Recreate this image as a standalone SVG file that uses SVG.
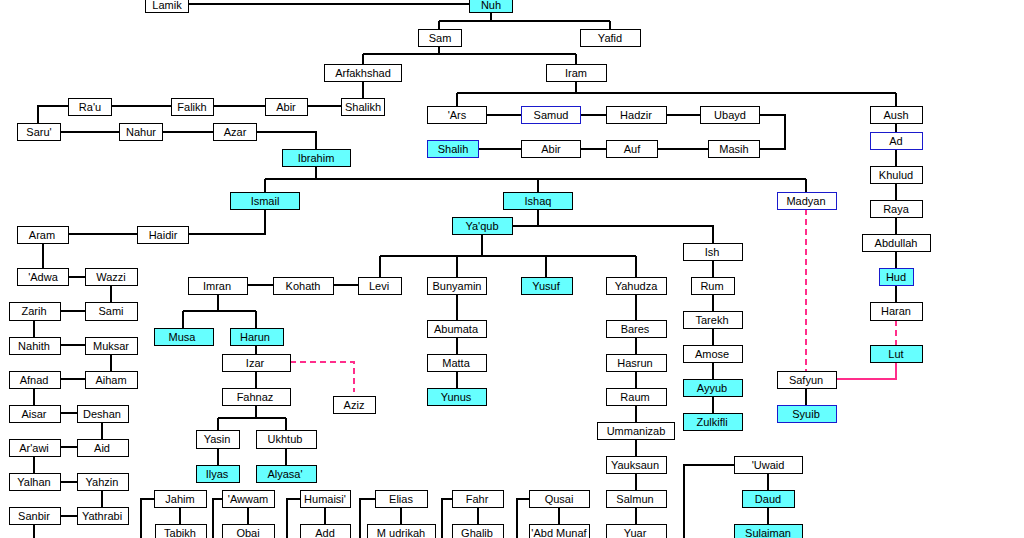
<svg xmlns="http://www.w3.org/2000/svg" width="1024" height="538" viewBox="0 0 1024 538">
<style>
rect{fill:#fff;stroke:#000;stroke-width:1}
.c rect{fill:#66FFFF}
.b rect{stroke:#1a1acc}
text{font-family:"Liberation Sans",Arial,sans-serif;font-size:11px;fill:#000;text-anchor:middle}
#links path{fill:none;stroke:#000;stroke-width:2}
#links path.pk{stroke:#ff2d8a}
#links path.d{stroke-dasharray:6 4}
</style>
<rect x="0" y="0" width="1024" height="538" style="fill:#fff;stroke:none"/>
<g id="links">
<path d="M188 4H469"/>
<path d="M491 12V21M439 21H610M439 21V29M610 21V29"/>
<path d="M439 46V54M363 54H576M363 54V65M576 54V65"/>
<path d="M363 81V98"/>
<path d="M111 106H171M213 106H265M307 106H341M68 106H38V123"/>
<path d="M60 132H119M162 132H213M256 132H316V150"/>
<path d="M316 166V179M265 179H806M265 179V192M538 179V192M806 179V192"/>
<path d="M576 81V93M457 93H896M457 93V106M896 93V106"/>
<path d="M486 115H521M580 115H606M666 115H700M759 115H785V149H759"/>
<path d="M478 149H521M580 149H606M657 149H708"/>
<path d="M896 123V132M896 149V166M896 183V201M896 217V234M896 251V268M896 285V302"/>
<path class="pk d" d="M896 320V345"/>
<path class="pk" d="M896 362V379H836"/>
<path class="pk d" d="M806 209V371"/>
<path d="M806 388V405"/>
<path d="M265 209V234H188M68 234H137M43 243V268"/>
<path d="M68 277H85M111 285V302M60 311H85M34 320V337M60 345H85M111 354V371M60 379H85M34 388V405M60 413H77M102 422V439M60 447H77M34 456V473M60 482H77M102 490V507M60 516H77M34 524V538"/>
<path d="M538 209V226M512 226H713V243"/>
<path d="M482 234V256M380 256H636M380 256V277M457 256V277M546 256V277M636 256V277"/>
<path d="M247 285H273M333 285H358"/>
<path d="M218 294V311M183 311H256M183 311V328M256 311V328"/>
<path d="M256 345V354M256 371V388"/>
<path class="pk d" d="M290 362H354V392"/>
<path d="M256 405V418M218 418H286M218 418V430M286 418V430M218 448V465M286 448V465"/>
<path d="M457 294V320M457 337V354M457 371V388"/>
<path d="M636 294V320M636 337V354M636 371V388M636 405V422M636 439V456M636 473V490M636 507V524"/>
<path d="M713 260V277M713 294V311M713 328V345M713 362V379M713 396V413"/>
<path d="M154 499H141V538M222 499H213V538M300 499H287V538M375 499H360V538M452 499H442V538M529 499H517V538M734 465H684V538"/>
<path d="M180 507V524M248 507V524M325 507V524M401 507V524M478 507V524M559 507V524M768 473V490M768 507V524"/>
</g>
<g id="lamik"><rect x="145.5" y="-4.5" width="43" height="17"/><text x="167" y="9">Lamik</text></g>
<g id="nuh" class="c"><rect x="469.5" y="-4.5" width="43" height="17"/><text x="491" y="9">Nuh</text></g>
<g id="sam"><rect x="418.5" y="29.5" width="43" height="17"/><text x="440" y="42">Sam</text></g>
<g id="yafid"><rect x="580.5" y="29.5" width="60" height="17"/><text x="610" y="42">Yafid</text></g>
<g id="arfakhshad"><rect x="324.5" y="64.5" width="77" height="17"/><text x="363" y="77">Arfakhshad</text></g>
<g id="iram"><rect x="546.5" y="64.5" width="60" height="17"/><text x="576" y="77">Iram</text></g>
<g id="rau"><rect x="68.5" y="98.5" width="43" height="17"/><text x="90" y="111">Ra'u</text></g>
<g id="falikh"><rect x="171.5" y="98.5" width="42" height="17"/><text x="192" y="111">Falikh</text></g>
<g id="abir1"><rect x="265.5" y="98.5" width="42" height="17"/><text x="286" y="111">Abir</text></g>
<g id="shalikh"><rect x="341.5" y="98.5" width="43" height="17"/><text x="363" y="111">Shalikh</text></g>
<g id="saru"><rect x="17.5" y="123.5" width="43" height="17"/><text x="39" y="136">Saru'</text></g>
<g id="nahur"><rect x="119.5" y="123.5" width="43" height="17"/><text x="141" y="136">Nahur</text></g>
<g id="azar"><rect x="213.5" y="123.5" width="43" height="17"/><text x="235" y="136">Azar</text></g>
<g id="ibrahim" class="c"><rect x="282.5" y="149.5" width="68" height="17"/><text x="316" y="162">Ibrahim</text></g>
<g id="ars"><rect x="427.5" y="106.5" width="59" height="17"/><text x="457" y="119">'Ars</text></g>
<g id="samud" class="b"><rect x="521.5" y="106.5" width="59" height="17"/><text x="551" y="119">Samud</text></g>
<g id="hadzir"><rect x="606.5" y="106.5" width="60" height="17"/><text x="636" y="119">Hadzir</text></g>
<g id="ubayd"><rect x="700.5" y="106.5" width="59" height="17"/><text x="730" y="119">Ubayd</text></g>
<g id="shalih" class="c b"><rect x="427.5" y="140.5" width="51" height="17"/><text x="453" y="153">Shalih</text></g>
<g id="abir2"><rect x="521.5" y="140.5" width="59" height="17"/><text x="551" y="153">Abir</text></g>
<g id="auf"><rect x="606.5" y="140.5" width="51" height="17"/><text x="632" y="153">Auf</text></g>
<g id="masih"><rect x="708.5" y="140.5" width="51" height="17"/><text x="734" y="153">Masih</text></g>
<g id="aush"><rect x="870.5" y="106.5" width="52" height="17"/><text x="896" y="119">Aush</text></g>
<g id="ad" class="b"><rect x="870.5" y="132.5" width="52" height="17"/><text x="896" y="145">Ad</text></g>
<g id="khulud"><rect x="870.5" y="166.5" width="52" height="17"/><text x="896" y="179">Khulud</text></g>
<g id="raya"><rect x="870.5" y="200.5" width="52" height="17"/><text x="896" y="213">Raya</text></g>
<g id="abdullah"><rect x="862.5" y="234.5" width="68" height="17"/><text x="896" y="247">Abdullah</text></g>
<g id="hud" class="c b"><rect x="879.5" y="268.5" width="34" height="17"/><text x="896" y="281">Hud</text></g>
<g id="haran"><rect x="870.5" y="302.5" width="52" height="18"/><text x="896" y="315">Haran</text></g>
<g id="lut" class="c"><rect x="870.5" y="345.5" width="52" height="17"/><text x="896" y="358">Lut</text></g>
<g id="ismail" class="c"><rect x="230.5" y="192.5" width="69" height="17"/><text x="265" y="205">Ismail</text></g>
<g id="ishaq" class="c"><rect x="503.5" y="192.5" width="69" height="17"/><text x="538" y="205">Ishaq</text></g>
<g id="madyan" class="b"><rect x="777.5" y="192.5" width="59" height="17"/><text x="806" y="205">Madyan</text></g>
<g id="yaqub" class="c"><rect x="452.5" y="217.5" width="60" height="17"/><text x="482" y="230">Ya'qub</text></g>
<g id="aram"><rect x="17.5" y="226.5" width="51" height="17"/><text x="42" y="239">Aram</text></g>
<g id="haidir"><rect x="137.5" y="226.5" width="51" height="17"/><text x="163" y="239">Haidir</text></g>
<g id="adwa"><rect x="17.5" y="268.5" width="51" height="17"/><text x="43" y="281">'Adwa</text></g>
<g id="wazzi"><rect x="85.5" y="268.5" width="52" height="17"/><text x="111" y="281">Wazzi</text></g>
<g id="zarih"><rect x="9.5" y="302.5" width="51" height="18"/><text x="34" y="315">Zarih</text></g>
<g id="sami"><rect x="85.5" y="302.5" width="52" height="18"/><text x="111" y="315">Sami</text></g>
<g id="nahith"><rect x="9.5" y="337.5" width="51" height="17"/><text x="34" y="350">Nahith</text></g>
<g id="muksar"><rect x="85.5" y="337.5" width="52" height="17"/><text x="111" y="350">Muksar</text></g>
<g id="afnad"><rect x="9.5" y="371.5" width="51" height="17"/><text x="34" y="384">Afnad</text></g>
<g id="aiham"><rect x="85.5" y="371.5" width="52" height="17"/><text x="111" y="384">Aiham</text></g>
<g id="aisar"><rect x="9.5" y="405.5" width="51" height="17"/><text x="34" y="418">Aisar</text></g>
<g id="deshan"><rect x="77.5" y="405.5" width="51" height="17"/><text x="102" y="418">Deshan</text></g>
<g id="arawi"><rect x="9.5" y="439.5" width="51" height="17"/><text x="34" y="452">Ar'awi</text></g>
<g id="aid"><rect x="77.5" y="439.5" width="51" height="17"/><text x="102" y="452">Aid</text></g>
<g id="yalhan"><rect x="9.5" y="473.5" width="51" height="17"/><text x="34" y="486">Yalhan</text></g>
<g id="yahzin"><rect x="77.5" y="473.5" width="51" height="17"/><text x="102" y="486">Yahzin</text></g>
<g id="sanbir"><rect x="9.5" y="507.5" width="51" height="17"/><text x="34" y="520">Sanbir</text></g>
<g id="yathrabi"><rect x="77.5" y="507.5" width="51" height="17"/><text x="102" y="520">Yathrabi</text></g>
<g id="imran"><rect x="188.5" y="277.5" width="59" height="17"/><text x="217" y="290">Imran</text></g>
<g id="kohath"><rect x="273.5" y="277.5" width="60" height="17"/><text x="303" y="290">Kohath</text></g>
<g id="levi"><rect x="358.5" y="277.5" width="43" height="17"/><text x="379" y="290">Levi</text></g>
<g id="bunyamin"><rect x="427.5" y="277.5" width="59" height="17"/><text x="457" y="290">Bunyamin</text></g>
<g id="yusuf" class="c"><rect x="521.5" y="277.5" width="51" height="17"/><text x="546" y="290">Yusuf</text></g>
<g id="yahudza"><rect x="606.5" y="277.5" width="60" height="17"/><text x="636" y="290">Yahudza</text></g>
<g id="ish"><rect x="683.5" y="243.5" width="59" height="17"/><text x="712" y="256">Ish</text></g>
<g id="rum"><rect x="691.5" y="277.5" width="43" height="17"/><text x="712" y="290">Rum</text></g>
<g id="tarekh"><rect x="683.5" y="311.5" width="59" height="17"/><text x="712" y="324">Tarekh</text></g>
<g id="amose"><rect x="683.5" y="345.5" width="59" height="17"/><text x="712" y="358">Amose</text></g>
<g id="ayyub" class="c"><rect x="683.5" y="379.5" width="59" height="17"/><text x="712" y="392">Ayyub</text></g>
<g id="zulkifli" class="c"><rect x="683.5" y="413.5" width="59" height="17"/><text x="712" y="426">Zulkifli</text></g>
<g id="safyun"><rect x="777.5" y="371.5" width="59" height="17"/><text x="806" y="384">Safyun</text></g>
<g id="syuib" class="c b"><rect x="777.5" y="405.5" width="59" height="17"/><text x="806" y="418">Syuib</text></g>
<g id="musa" class="c"><rect x="154.5" y="328.5" width="59" height="17"/><text x="182" y="341">Musa</text></g>
<g id="harun" class="c"><rect x="230.5" y="328.5" width="53" height="17"/><text x="255" y="341">Harun</text></g>
<g id="izar"><rect x="222.5" y="354.5" width="68" height="17"/><text x="255" y="367">Izar</text></g>
<g id="aziz"><rect x="333.5" y="396.5" width="42" height="17"/><text x="354" y="409">Aziz</text></g>
<g id="fahnaz"><rect x="222.5" y="388.5" width="68" height="17"/><text x="255" y="401">Fahnaz</text></g>
<g id="yasin"><rect x="196.5" y="430.5" width="43" height="18"/><text x="217" y="443">Yasin</text></g>
<g id="ukhtub"><rect x="256.5" y="430.5" width="60" height="18"/><text x="285" y="443">Ukhtub</text></g>
<g id="ilyas" class="c"><rect x="196.5" y="465.5" width="43" height="17"/><text x="217" y="478">Ilyas</text></g>
<g id="alyasa" class="c"><rect x="256.5" y="465.5" width="60" height="17"/><text x="285" y="478">Alyasa'</text></g>
<g id="abumata"><rect x="427.5" y="320.5" width="59" height="17"/><text x="456" y="333">Abumata</text></g>
<g id="matta"><rect x="427.5" y="354.5" width="59" height="17"/><text x="456" y="367">Matta</text></g>
<g id="yunus" class="c"><rect x="427.5" y="388.5" width="59" height="17"/><text x="456" y="401">Yunus</text></g>
<g id="bares"><rect x="606.5" y="320.5" width="60" height="17"/><text x="635" y="333">Bares</text></g>
<g id="hasrun"><rect x="606.5" y="354.5" width="60" height="17"/><text x="635" y="367">Hasrun</text></g>
<g id="raum"><rect x="606.5" y="388.5" width="60" height="17"/><text x="635" y="401">Raum</text></g>
<g id="ummanizab"><rect x="597.5" y="422.5" width="77" height="17"/><text x="636" y="435">Ummanizab</text></g>
<g id="yauksaun"><rect x="606.5" y="456.5" width="60" height="17"/><text x="635" y="469">Yauksaun</text></g>
<g id="salmun"><rect x="606.5" y="490.5" width="60" height="17"/><text x="635" y="503">Salmun</text></g>
<g id="yuar"><rect x="606.5" y="524.5" width="60" height="17"/><text x="635" y="537">Yuar</text></g>
<g id="uwaid"><rect x="734.5" y="456.5" width="68" height="17"/><text x="768" y="469">'Uwaid</text></g>
<g id="daud" class="c"><rect x="742.5" y="490.5" width="52" height="17"/><text x="768" y="503">Daud</text></g>
<g id="sulaiman" class="c"><rect x="734.5" y="524.5" width="68" height="17"/><text x="768" y="537">Sulaiman</text></g>
<g id="jahim"><rect x="154.5" y="490.5" width="52" height="17"/><text x="180" y="503">Jahim</text></g>
<g id="tabikh"><rect x="155.5" y="524.5" width="51" height="17"/><text x="180" y="537">Tabikh</text></g>
<g id="awwam"><rect x="222.5" y="490.5" width="52" height="17"/><text x="248" y="503">'Awwam</text></g>
<g id="obai"><rect x="222.5" y="524.5" width="52" height="17"/><text x="248" y="537">Obai</text></g>
<g id="humaisi"><rect x="300.5" y="490.5" width="50" height="17"/><text x="325" y="503">Humaisi'</text></g>
<g id="add"><rect x="300.5" y="524.5" width="50" height="17"/><text x="325" y="537">Add</text></g>
<g id="elias"><rect x="375.5" y="490.5" width="52" height="17"/><text x="401" y="503">Elias</text></g>
<g id="mudrikah"><rect x="367.5" y="524.5" width="68" height="17"/><text x="401" y="537">M udrikah</text></g>
<g id="fahr"><rect x="452.5" y="490.5" width="51" height="17"/><text x="477" y="503">Fahr</text></g>
<g id="ghalib"><rect x="452.5" y="524.5" width="51" height="17"/><text x="477" y="537">Ghalib</text></g>
<g id="qusai"><rect x="529.5" y="490.5" width="60" height="17"/><text x="559" y="503">Qusai</text></g>
<g id="abdmunaf"><rect x="529.5" y="524.5" width="60" height="17"/><text x="559" y="537">'Abd Munaf</text></g>
</svg>
